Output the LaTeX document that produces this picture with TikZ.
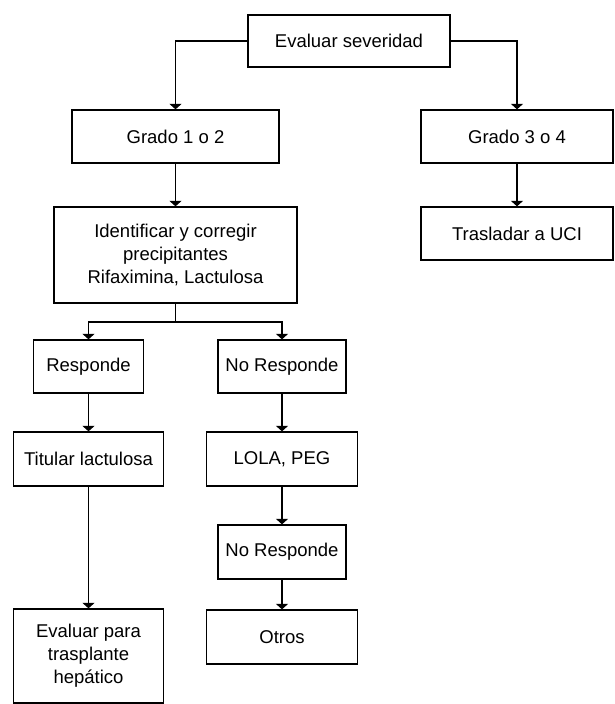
\documentclass[tikz,border=0pt]{standalone}
\usepackage{fontspec}
\setmainfont{Liberation Sans}
\usetikzlibrary{arrows.meta}
\begin{document}
\begin{tikzpicture}[x=1pt,y=-1pt,
  box/.style={draw=black,line width=1.3pt,inner sep=0pt,align=center,
    font=\fontsize{18.5}{23}\selectfont},
  arr/.style={draw=black,line width=1.3pt,-{Triangle[width=12pt,length=5.5pt]}},
  ln/.style={draw=black,line width=1.3pt}]
\useasboundingbox (0,0) rectangle (614,704);
\node[box,minimum width=202pt,minimum height=52pt] (ev) at (349,41) {Evaluar severidad};
\node[box,minimum width=207pt,minimum height=53pt] (g12) at (175.5,136.5) {Grado 1 o 2};
\node[box,minimum width=192pt,minimum height=53pt] (g34) at (517,136.5) {Grado 3 o 4};
\node[box,minimum width=243pt,minimum height=96pt] (idc) at (175.5,255) {Identificar y corregir\\precipitantes\\Rifaximina, Lactulosa};
\node[box,minimum width=192pt,minimum height=53pt] (uci) at (517,233.5) {Trasladar a UCI};
\node[box,minimum width=110pt,minimum height=53pt] (resp) at (88.5,366.5) {Responde};
\node[box,minimum width=128pt,minimum height=53pt] (nresp) at (282,366.5) {No Responde};
\node[box,minimum width=150pt,minimum height=54pt] (tit) at (88.5,459) {Titular lactulosa};
\node[box,minimum width=151pt,minimum height=54pt] (lola) at (282,459) {LOLA, PEG};
\node[box,minimum width=128pt,minimum height=54pt] (nr2) at (282,552) {No Responde};
\node[box,minimum width=151pt,minimum height=54pt] (otros) at (282,637) {Otros};
\node[box,minimum width=150pt,minimum height=94pt] (evtx) at (88.5,656) {Evaluar para\\trasplante\\hepático};
\draw[arr] (ev.west) -| (g12.north);
\draw[arr] (ev.east) -| (g34.north);
\draw[arr] (g12.south) -- (idc.north);
\draw[arr] (g34.south) -- (uci.north);
\coordinate (br) at (175.5,322);
\draw[ln] (idc.south) -- (br);
\draw[arr] (br) -| (resp.north);
\draw[arr] (br) -| (nresp.north);
\draw[arr] (resp.south) -- (tit.north);
\draw[arr] (nresp.south) -- (lola.north);
\draw[arr] (tit.south) -- (evtx.north);
\draw[arr] (lola.south) -- (nr2.north);
\draw[arr] (nr2.south) -- (otros.north);
\end{tikzpicture}
\end{document}
